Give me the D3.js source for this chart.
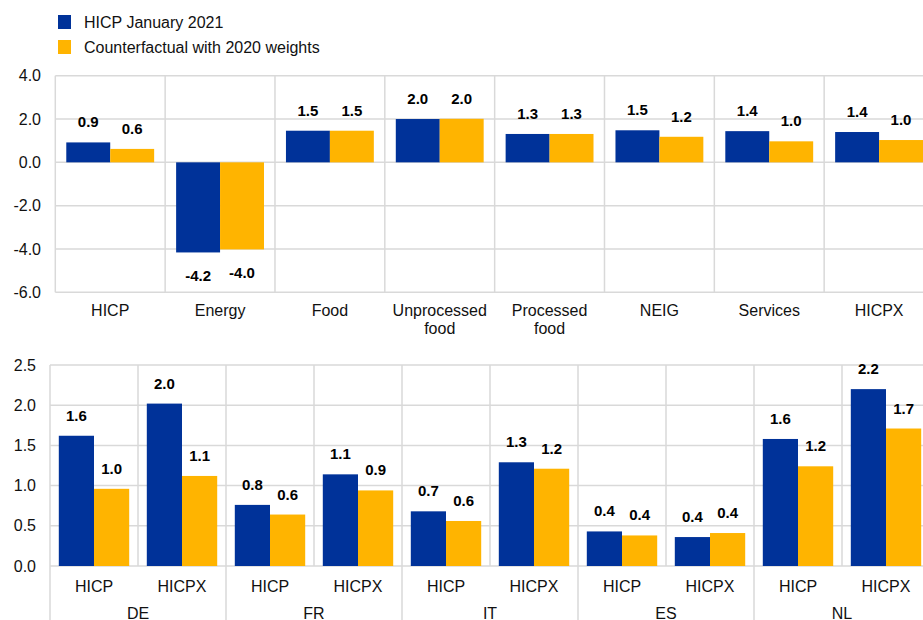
<!DOCTYPE html>
<html>
<head>
<meta charset="utf-8">
<script src="https://cdn.jsdelivr.net/npm/d3@7"></script>
<style>
  html, body { margin: 0; padding: 0; background: #fff; overflow: hidden; }
  svg { display: block; font-family: "Liberation Sans", Arial, sans-serif; }
</style>
</head>
<body>
<svg id="chart" width="923" height="620"></svg>
<script>
// ---------- DATA ----------
const seriesNames = ["HICP January 2021", "Counterfactual with 2020 weights"];
const seriesColors = ["#003299", "#FFB400"];

const topCategories = [["HICP"], ["Energy"], ["Food"], ["Unprocessed", "food"], ["Processed", "food"], ["NEIG"], ["Services"], ["HICPX"]];
const topHicp = [0.92, -4.16, 1.46, 2.0, 1.31, 1.48, 1.44, 1.40];
const topCounterfactual = [0.62, -4.02, 1.46, 2.01, 1.31, 1.18, 0.97, 1.03];
const topTicks = [-6, -4, -2, 0, 2, 4];

const countries = ["DE", "FR", "IT", "ES", "NL"];
const measures = ["HICP", "HICPX"];
const bottomHicp = [1.62, 2.02, 0.76, 1.14, 0.68, 1.29, 0.43, 0.36, 1.58, 2.2];
const bottomCounterfactual = [0.96, 1.12, 0.64, 0.94, 0.56, 1.21, 0.38, 0.41, 1.24, 1.71];
const bottomTicks = [0, 0.5, 1.0, 1.5, 2.0, 2.5];

// ---------- SETUP ----------
const svg = d3.select("#chart");
const gridColor = "#d9d9d9";
const textColor = "#111";
const fs = 16, fsBold = 15;
const fmt = v => v.toFixed(1);

// Legend
seriesNames.forEach((name, i) => {
  const y0 = 15 + i * 25;
  svg.append("rect").attr("x", 58).attr("y", y0).attr("width", 13).attr("height", 14).attr("fill", seriesColors[i]);
  svg.append("text").attr("x", 84).attr("y", y0 + 12.5).attr("font-size", fs).attr("fill", textColor).text(name);
});

// ---------- TOP CHART ----------
(function () {
  const left = 55.3, right = 934, top = 75.7, bottom = 292.3;
  const x = d3.scaleBand().domain(d3.range(topCategories.length)).range([left, right]).padding(0);
  const xs = d3.scaleBand().domain([0, 1]).range([0, x.bandwidth()]).paddingInner(0).paddingOuter(0.25);
  const y = d3.scaleLinear().domain([-6, 4]).range([bottom, top]);
  const g = svg.append("g");

  g.selectAll("line.h").data(topTicks).join("line")
    .attr("x1", left).attr("x2", right).attr("y1", d => y(d)).attr("y2", d => y(d))
    .attr("stroke", gridColor).attr("stroke-width", 1.5);
  g.selectAll("line.v").data(d3.range(topCategories.length + 1)).join("line")
    .attr("x1", d => left + d * x.step()).attr("x2", d => left + d * x.step())
    .attr("y1", top).attr("y2", bottom)
    .attr("stroke", gridColor).attr("stroke-width", 1.5);

  g.selectAll("text.yt").data(topTicks).join("text")
    .attr("x", 41).attr("y", d => y(d)).attr("dy", "0.35em").attr("text-anchor", "end")
    .attr("font-size", fs).attr("fill", textColor).text(d => fmt(d));

  const series = [topHicp, topCounterfactual];
  series.forEach((vals, s) => {
    g.selectAll("rect.s" + s).data(vals).join("rect")
      .attr("x", (d, i) => x(i) + xs(s)).attr("width", xs.bandwidth())
      .attr("y", d => y(Math.max(0, d))).attr("height", d => Math.abs(y(d) - y(0)))
      .attr("fill", seriesColors[s]);
    g.selectAll("text.l" + s).data(vals).join("text")
      .attr("x", (d, i) => x(i) + xs(s) + xs.bandwidth() / 2)
      .attr("y", d => d >= 0 ? y(d) - 15 : y(d) + 28.5)
      .attr("text-anchor", "middle").attr("font-size", fsBold).attr("font-weight", "bold")
      .attr("fill", "#000").text(d => fmt(d));
  });

  topCategories.forEach((lines, i) => {
    lines.forEach((ln, j) => {
      g.append("text").attr("x", x(i) + x.bandwidth() / 2).attr("y", bottom + 23.5 + j * 18)
        .attr("text-anchor", "middle").attr("font-size", fs).attr("fill", textColor).text(ln);
    });
  });
})();

// ---------- BOTTOM CHART ----------
(function () {
  const left = 50, right = 930, top = 365, bottom = 566;
  const keys = [];
  countries.forEach(c => measures.forEach(m => keys.push(c + "|" + m)));
  const x = d3.scaleBand().domain(keys).range([left, right]).padding(0);
  const xs = d3.scaleBand().domain([0, 1]).range([0, x.bandwidth()]).paddingInner(0).paddingOuter(0.25);
  const y = d3.scaleLinear().domain([0, 2.5]).range([bottom, top]);
  const g = svg.append("g");

  g.selectAll("line.h").data(bottomTicks).join("line")
    .attr("x1", left).attr("x2", right).attr("y1", d => y(d)).attr("y2", d => y(d))
    .attr("stroke", gridColor).attr("stroke-width", 1.5);
  g.selectAll("line.v").data(d3.range(keys.length + 1)).join("line")
    .attr("x1", d => left + d * x.step()).attr("x2", d => left + d * x.step())
    .attr("y1", top).attr("y2", d => d % 2 === 0 ? 620 : bottom)
    .attr("stroke", gridColor).attr("stroke-width", 1.5);

  g.selectAll("text.yt").data(bottomTicks).join("text")
    .attr("x", 36).attr("y", d => y(d)).attr("dy", "0.35em").attr("text-anchor", "end")
    .attr("font-size", fs).attr("fill", textColor).text(d => fmt(d));

  const series = [bottomHicp, bottomCounterfactual];
  series.forEach((vals, s) => {
    g.selectAll("rect.s" + s).data(vals).join("rect")
      .attr("x", (d, i) => x(keys[i]) + xs(s)).attr("width", xs.bandwidth())
      .attr("y", d => y(d)).attr("height", d => y(0) - y(d))
      .attr("fill", seriesColors[s]);
    g.selectAll("text.l" + s).data(vals).join("text")
      .attr("x", (d, i) => x(keys[i]) + xs(s) + xs.bandwidth() / 2)
      .attr("y", d => y(d) - 15)
      .attr("text-anchor", "middle").attr("font-size", fsBold).attr("font-weight", "bold")
      .attr("fill", "#000").text(d => fmt(d));
  });

  keys.forEach(k => {
    g.append("text").attr("x", x(k) + x.bandwidth() / 2).attr("y", bottom + 25.5)
      .attr("text-anchor", "middle").attr("font-size", fs).attr("fill", textColor).text(k.split("|")[1]);
  });
  countries.forEach((c, i) => {
    g.append("text").attr("x", x(c + "|HICP") + x.step()).attr("y", 619)
      .attr("text-anchor", "middle").attr("font-size", fs).attr("fill", textColor).text(c);
  });
})();
</script>
</body>
</html>
